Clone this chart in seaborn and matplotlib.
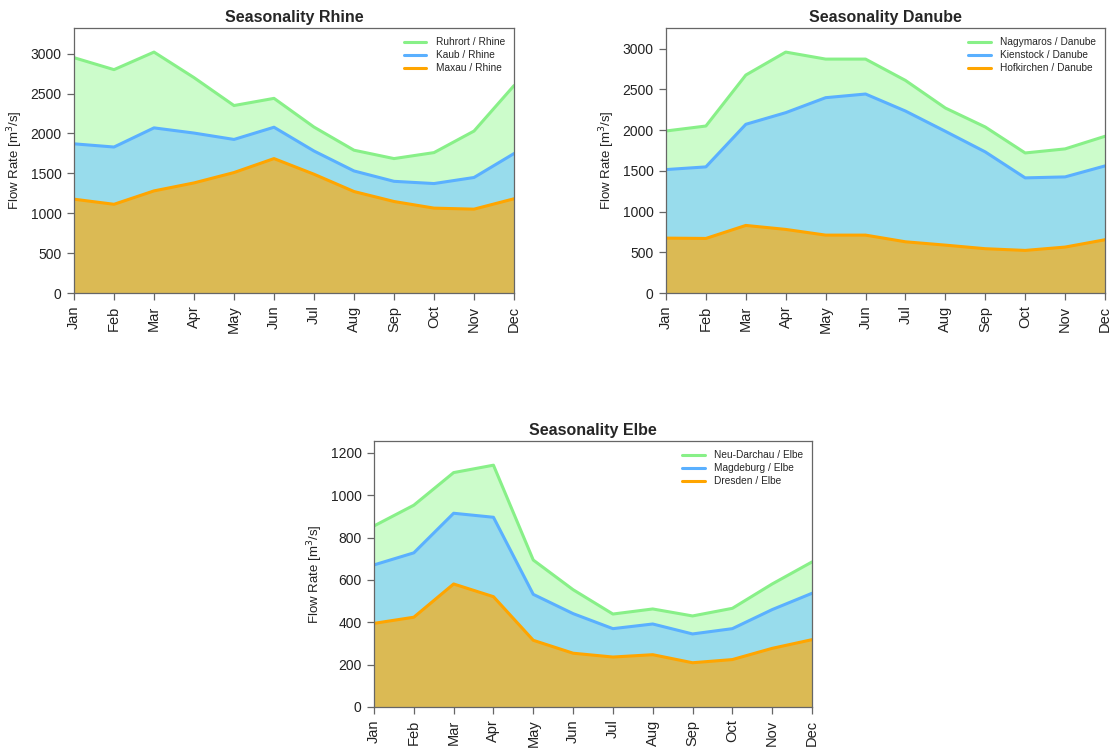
import numpy as np
import pandas as pd
import matplotlib
matplotlib.use("Agg")
import matplotlib.pyplot as plt
import seaborn as sns

months = ["Jan", "Feb", "Mar", "Apr", "May", "Jun",
          "Jul", "Aug", "Sep", "Oct", "Nov", "Dec"]

# Mean monthly discharge (m^3/s) per gauging station
ruhrort = [2950, 2800, 3020, 2700, 2350, 2440, 2080, 1790, 1685, 1760, 2030, 2600]
kaub = [1870, 1830, 2070, 2005, 1925, 2078, 1780, 1530, 1400, 1372, 1448, 1748]
maxau = [1176, 1112, 1280, 1380, 1510, 1685, 1489, 1272, 1147, 1064, 1051, 1181]

nagymaros = [1990, 2051, 2677, 2959, 2873, 2873, 2611, 2272, 2039, 1720, 1770, 1925]
kienstock = [1516, 1549, 2072, 2215, 2399, 2444, 2235, 1986, 1733, 1414, 1426, 1561]
hofkirchen = [674, 670, 830, 781, 711, 711, 629, 588, 544, 523, 564, 654]

neu_darchau = [855, 953, 1107, 1142, 694, 554, 439, 463, 430, 466, 581, 685]
magdeburg = [671, 728, 915, 896, 532, 441, 370, 392, 345, 370, 460, 537]
dresden = [395, 424, 581, 521, 315, 254, 236, 247, 209, 224, 277, 318]

rivers = [
    ("Rhine", [("Ruhrort / Rhine", ruhrort), ("Kaub / Rhine", kaub), ("Maxau / Rhine", maxau)]),
    ("Danube", [("Nagymaros / Danube", nagymaros), ("Kienstock / Danube", kienstock),
                ("Hofkirchen / Danube", hofkirchen)]),
    ("Elbe", [("Neu-Darchau / Elbe", neu_darchau), ("Magdeburg / Elbe", magdeburg),
              ("Dresden / Elbe", dresden)]),
]

line_colors = ["#88F088", "#5AB0FF", "#FFA500"]
fill_colors = ["#CCFCCB", "#98DCEC", "#DBBA54"]

sns.set_style("ticks")
plt.rcParams["font.family"] = ["Liberation Sans", "DejaVu Sans"]

fig = plt.figure(figsize=(11.1, 7.5), dpi=100)
positions = [
    [74 / 1110, 1 - 293 / 750, 440 / 1110, 265 / 750],
    [666 / 1110, 1 - 293 / 750, 439 / 1110, 265 / 750],
    [374 / 1110, 1 - 707 / 750, 438 / 1110, 266 / 750],
]

frame_col = "#666666"
text_col = "#222222"
x = np.arange(len(months))

for (river, stations), pos in zip(rivers, positions):
    ax = fig.add_axes(pos)
    rows = []
    for name, vals in stations:
        for i, v in enumerate(vals):
            rows.append({"month": i, "flow": v, "station": name})
    df = pd.DataFrame(rows)
    names = [s[0] for s in stations]

    for (name, vals), fc in zip(stations, fill_colors):
        ax.fill_between(x, 0, vals, color=fc, linewidth=0, zorder=1)

    sns.lineplot(data=df, x="month", y="flow", hue="station", hue_order=names,
                 palette=line_colors, linewidth=2.2, ax=ax, zorder=2)

    ymax = max(max(v) for _, v in stations) * 1.1
    ax.set_xlim(0, 11)
    ax.set_ylim(0, ymax)
    ax.set_xticks(x)
    ax.set_xticklabels(months, rotation=90, fontsize=10.5, color=text_col)
    ax.tick_params(axis="y", labelsize=10, labelcolor=text_col)
    ax.tick_params(axis="both", direction="out", length=5, width=0.9,
                   color=frame_col, pad=4)
    for sp in ax.spines.values():
        sp.set_visible(True)
        sp.set_color(frame_col)
        sp.set_linewidth(0.9)
    ax.set_xlabel("")
    ax.set_ylabel("Flow Rate [m$^3$/s]", fontsize=9.5, color=text_col)
    ax.set_title(f"Seasonality {river}", fontsize=11.5, fontweight="bold", pad=4)

    leg = ax.legend(loc="upper right", frameon=False, fontsize=7.3, handlelength=2.2,
                    handletextpad=0.9, labelspacing=0.3, borderaxespad=0.5)
    for line in leg.get_lines():
        line.set_linewidth(2.2)

fig.savefig("out.png", dpi=100)
